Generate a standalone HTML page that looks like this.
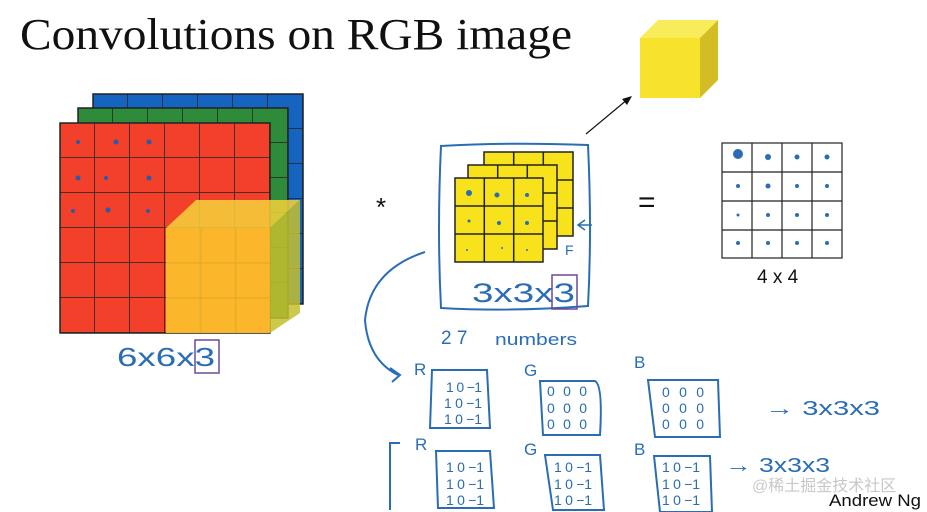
<!DOCTYPE html>
<html><head><meta charset="utf-8"><style>
html,body{margin:0;padding:0;background:#fff;width:927px;height:512px;overflow:hidden}
svg{display:block}
text{white-space:pre}
.h{font-family:"Liberation Sans",sans-serif;fill:#2a6db5}
</style></head><body>
<svg width="927" height="512" viewBox="0 0 927 512" xmlns="http://www.w3.org/2000/svg" xml:space="preserve">
<defs>
<pattern id="g35" x="0" y="0" width="35" height="35" patternUnits="userSpaceOnUse"><path d="M35 0V35H0" fill="none" stroke="#222" stroke-width="1.5"/></pattern>
</defs>
<text x="20" y="49" font-family="Liberation Serif,serif" font-size="44" fill="#111" textLength="552" lengthAdjust="spacingAndGlyphs">Convolutions on RGB image</text>
<g>
<rect x="93" y="94" width="210" height="210" fill="#1565c0" stroke="#222" stroke-width="1.5"/>
<g transform="translate(93,94)"><rect width="210" height="210" fill="url(#g35)"/></g>
<rect x="78" y="108" width="210" height="210" fill="#2e8b3a" stroke="#222" stroke-width="1.5"/>
<g transform="translate(78,108)"><rect width="210" height="210" fill="url(#g35)"/></g>
<rect x="60" y="123" width="210" height="210" fill="#f2402a" stroke="#222" stroke-width="1.5"/>
<g transform="translate(60,123)"><rect width="210" height="210" fill="url(#g35)"/></g>
<polygon points="166,228 196,200 300,200 270,228" fill="#f5d23a" opacity="0.85"/>
<polygon points="270,228 300,200 300,313 270,333" fill="#c4c02e" opacity="0.85"/>
<rect x="166" y="228" width="104" height="105" fill="#fbbd2c" opacity="0.95"/>
<path d="M201 228V333M236 228V333M166 263H270M166 298H270" stroke="#e0a826" stroke-width="1"/>
<g fill="#2a5aa8"><circle cx="78" cy="142" r="2"/><circle cx="116" cy="142" r="2.5"/><circle cx="149" cy="142" r="2.5"/><circle cx="78" cy="178" r="2.5"/><circle cx="106" cy="178" r="2"/><circle cx="149" cy="178" r="2.5"/><circle cx="73" cy="211" r="2"/><circle cx="108" cy="210" r="2.5"/><circle cx="148" cy="211" r="2"/></g>
</g>
<text class="h" x="117" y="366" font-size="26" textLength="98" lengthAdjust="spacingAndGlyphs">6x6x3</text>
<rect x="195" y="340" width="24" height="33" fill="none" stroke="#6a4a9a" stroke-width="1.5"/>
<text x="376" y="216" font-family="Liberation Sans,sans-serif" font-size="26" fill="#111">*</text>
<text x="638" y="212" font-family="Liberation Sans,sans-serif" font-size="30" fill="#111">=</text>
<path d="M441 146 Q510 142 588 145 Q592 230 588 306 Q510 312 441 308 Q437 230 441 146Z" fill="none" stroke="#2a6db5" stroke-width="2"/>
<g stroke="#222" stroke-width="1.5" fill="#f7e21c">
<rect x="484" y="152" width="89" height="84"/><path d="M513.7 152V236M543.3 152V236M484 180H573M484 208H573" fill="none"/>
<rect x="468" y="165" width="89" height="84"/><path d="M497.7 165V249M527.3 165V249M468 193H557M468 221H557" fill="none"/>
<rect x="455" y="178" width="88" height="84"/><path d="M484.3 178V262M513.7 178V262M455 206H543M455 234H543" fill="none"/>
</g>
<g fill="#2a6db5"><circle cx="469" cy="193" r="3"/><circle cx="497" cy="195" r="2.5"/><circle cx="527" cy="195" r="2"/><circle cx="469" cy="221" r="1.5"/><circle cx="499" cy="223" r="2"/><circle cx="527" cy="223" r="2"/><circle cx="467" cy="250" r="1"/><circle cx="502" cy="248" r="1"/><circle cx="527" cy="250" r="1"/></g>
<path d="M585 220 L578 225 L585 230 M578 225 H592" stroke="#2a6db5" fill="none" stroke-width="1.5"/>
<text class="h" x="565" y="255" font-size="14">F</text>
<text class="h" x="472" y="302" font-size="27" textLength="103" lengthAdjust="spacingAndGlyphs">3x3x3</text>
<rect x="552" y="275" width="25" height="34" fill="none" stroke="#6a4a9a" stroke-width="1.5"/>
<line x1="586" y1="134" x2="628" y2="99" stroke="#111" stroke-width="1.2"/>
<polygon points="632,96 622,99 627,105" fill="#111"/>
<polygon points="640,38 658,20 718,20 700,38" fill="#f8ec5a"/>
<polygon points="700,38 718,20 718,80 700,98" fill="#d2be24"/>
<rect x="640" y="38" width="60" height="60" fill="#f8e32c"/>
<g stroke="#222" stroke-width="1.2" fill="none">
<rect x="722" y="143" width="120" height="115"/>
<path d="M752 143V258M782 143V258M812 143V258M722 172H842M722 201H842M722 230H842"/>
</g>
<g fill="#2a6db5"><circle cx="738" cy="154" r="5"/><circle cx="768" cy="157" r="3"/><circle cx="797" cy="157" r="2.5"/><circle cx="827" cy="157" r="2.5"/><circle cx="738" cy="186" r="2"/><circle cx="768" cy="186" r="2.5"/><circle cx="797" cy="186" r="2"/><circle cx="827" cy="186" r="2"/><circle cx="738" cy="215" r="1.5"/><circle cx="768" cy="215" r="2"/><circle cx="797" cy="215" r="2"/><circle cx="827" cy="215" r="2"/><circle cx="738" cy="243" r="2"/><circle cx="768" cy="243" r="2"/><circle cx="797" cy="243" r="2"/><circle cx="827" cy="243" r="2"/></g>
<text x="757" y="283" font-family="Liberation Sans,sans-serif" font-size="19" fill="#111">4 x 4</text>
<path d="M425 252 Q370 270 365 320 Q368 360 398 375" fill="none" stroke="#2a6db5" stroke-width="2"/>
<path d="M390 368 L400 375 L392 382" fill="none" stroke="#2a6db5" stroke-width="2"/>
<text class="h" x="441" y="344" font-size="19">2 7</text>
<text class="h" x="495" y="345" font-size="17" textLength="82" lengthAdjust="spacingAndGlyphs">numbers</text>
<g class="h" font-size="17">
<text x="414" y="375">R</text><text x="524" y="376">G</text><text x="634" y="368">B</text>
<text x="415" y="450">R</text><text x="524" y="455">G</text><text x="634" y="455">B</text>
</g>
<g fill="none" stroke="#2a6db5" stroke-width="2">
<path d="M432 370 H487 L490 428 H430Z"/><path d="M540 381 H595 Q603 385 600 435 H543Z"/><path d="M648 380 H718 L720 437 H655Z"/>
<path d="M436 451 H490 L494 508 H438Z"/><path d="M545 455 H600 L604 510 H553Z"/><path d="M654 456 H710 L712 512 H660Z"/>
<path d="M400 443 H390 V510"/>
</g>
<g class="h" font-size="14">
<text x="446" y="392" textLength="36">1 0 −1</text><text x="444" y="408" textLength="38">1 0 −1</text><text x="444" y="424" textLength="38">1 0 −1</text>
<text x="547" y="396" textLength="40">0  0  0</text><text x="547" y="413" textLength="40">0  0  0</text><text x="547" y="429" textLength="40">0  0  0</text>
<text x="662" y="397" textLength="42">0  0  0</text><text x="662" y="413" textLength="42">0  0  0</text><text x="662" y="429" textLength="42">0  0  0</text>
<text x="446" y="472" textLength="38">1 0 −1</text><text x="446" y="489" textLength="38">1 0 −1</text><text x="446" y="505" textLength="38">1 0 −1</text>
<text x="554" y="472" textLength="38">1 0 −1</text><text x="554" y="489" textLength="38">1 0 −1</text><text x="554" y="505" textLength="38">1 0 −1</text>
<text x="662" y="472" textLength="38">1 0 −1</text><text x="662" y="489" textLength="38">1 0 −1</text><text x="662" y="505" textLength="38">1 0 −1</text>
</g>
<text class="h" x="765" y="415" font-size="20" textLength="115" lengthAdjust="spacingAndGlyphs">→ 3x3x3</text>
<text class="h" x="725" y="472" font-size="20" textLength="105" lengthAdjust="spacingAndGlyphs">→ 3x3x3</text>
<text x="752" y="491" font-family="Liberation Sans,'Noto Sans CJK SC',sans-serif" font-size="16" fill="#c8c8c8">@稀土掘金技术社区</text>
<text x="829" y="506" font-family="Liberation Sans,sans-serif" font-size="17" fill="#111" textLength="92" lengthAdjust="spacingAndGlyphs">Andrew Ng</text>
</svg>
</body></html>
